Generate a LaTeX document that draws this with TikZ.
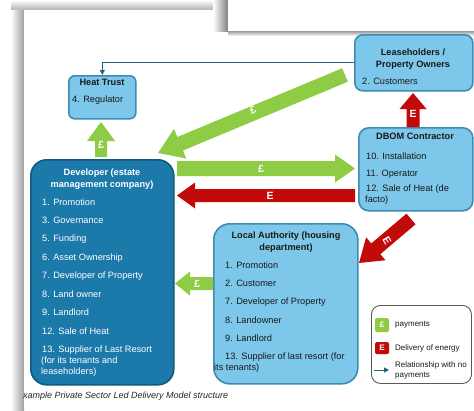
\documentclass[tikz,border=0pt]{standalone}
\usepackage{fontspec}
\setmainfont{Liberation Sans}
\usetikzlibrary{calc,arrows.meta}
\definecolor{lbfill}{RGB}{125,199,234}
\definecolor{lbborder}{RGB}{60,140,180}
\definecolor{dbfill}{RGB}{27,122,170}
\definecolor{dbborder}{RGB}{18,88,125}
\definecolor{grn}{RGB}{142,204,70}
\definecolor{rd}{RGB}{195,10,10}
\definecolor{lnk}{RGB}{40,95,125}
\definecolor{txtc}{RGB}{25,25,25}
\newcommand\fatarrow[7]{%
  \coordinate (#7h) at ($(#3)!#6pt!(#2)$);
  \fill[#1] ($(#2)!#4pt!90:(#3)$) -- ($(#7h)!#4pt!90:(#3)$) -- ($(#7h)!#5pt!90:(#3)$) -- (#3)
    -- ($(#7h)!#5pt!-90:(#3)$) -- ($(#7h)!#4pt!-90:(#3)$) -- ($(#2)!#4pt!-90:(#3)$) -- cycle;}
\tikzset{
  lbox/.style={draw=lbborder, fill=lbfill, line width=1.6pt, inner sep=0pt, anchor=north west},
  dbox/.style={draw=dbborder, fill=dbfill, line width=1.6pt, inner sep=0pt, anchor=north west},
  txt/.style={inner sep=0pt, text=txtc, font=\fontsize{9.2}{11}\selectfont, text height=6.7pt, text depth=1.9pt},
  ttl/.style={txt, font=\bfseries\fontsize{9.2}{11}\selectfont},
  wtxt/.style={txt, text=white},
  wttl/.style={ttl, text=white},
  lbl/.style={inner sep=0pt, text=white, font=\bfseries\fontsize{10.5}{12}\selectfont},
  lgtxt/.style={inner sep=0pt, text=txtc, font=\fontsize{8}{9.5}\selectfont, text height=6pt, text depth=1.7pt},
  linkarrow/.style={draw=lnk, line width=1pt, -{Triangle[length=5pt,width=5pt]}},
}
\begin{document}
\begin{tikzpicture}[x=1pt,y=-1pt]
\useasboundingbox (0,0) rectangle (474,410);
% paper and shadows
\fill[white] (0,0) rectangle (474,410);
\shade[top color=white, bottom color=black!30] (11,0) rectangle (474,10);
\shade[left color=white, right color=black!38] (11,10) rectangle (24,410);
\fill[white] (24,10) rectangle (474,410);
\shade[left color=white, right color=black!50] (213,0) rectangle (228,31);
\shade[top color=black!40, bottom color=white] (228,31) rectangle (474,36);
\fill[white] (228,0) rectangle (474,31);

% boxes
\node[lbox, rounded corners=6pt, minimum width=67pt, minimum height=43pt] (heat) at (68,75) {};
\node[lbox, rounded corners=8pt, minimum width=118pt, minimum height=56pt] (lease) at (354,34) {};
\node[lbox, rounded corners=10pt, minimum width=114pt, minimum height=83pt] (dbom) at (358,127) {};
\node[dbox, rounded corners=16pt, minimum width=143pt, minimum height=225pt] (dev) at (30,159) {};
\node[lbox, rounded corners=16pt, minimum width=144pt, minimum height=160pt] (la) at (213,223) {};
\node[draw=black!65, line width=0.9pt, rounded corners=9pt, inner sep=0pt, anchor=north west, minimum width=100pt, minimum height=78pt] (legend) at (371,305) {};

% thin relationship arrow
\draw[linkarrow] (lease.west) -| (heat.north);

% fat arrows
\coordinate (gdA) at (345,75);  \coordinate (gdB) at (158,153);
\fatarrow{grn}{gdA}{gdB}{7.3}{16}{24}{gd}
\coordinate (ghA) at (177,168.5); \coordinate (ghB) at (355,168.5);
\fatarrow{grn}{ghA}{ghB}{7.5}{14}{20}{gh}
\coordinate (rhA) at (355,195.5); \coordinate (rhB) at (177,195.5);
\fatarrow{rd}{rhA}{rhB}{6.5}{13}{18}{rh}
\coordinate (guA) at (101,157); \coordinate (guB) at (101,122);
\fatarrow{grn}{guA}{guB}{6}{14}{19}{gu}
\coordinate (ruA) at (413,127); \coordinate (ruB) at (413,93);
\fatarrow{rd}{ruA}{ruB}{6.5}{13.5}{16}{ru}
\coordinate (rdA) at (411,219); \coordinate (rdB) at (359,263);
\fatarrow{rd}{rdA}{rdB}{7}{15}{22}{rdg}
\coordinate (glA) at (213,283.5); \coordinate (glB) at (175,283.5);
\fatarrow{grn}{glA}{glB}{6.5}{12}{15}{gl}

% arrow labels
\node[lbl] (l1) at (101,145) {£};
\node[lbl, rotate=23] (l2) at (253,110) {£};
\node[lbl] (l3) at (261,169) {£};
\node[lbl] (l4) at (270,196) {E};
\node[lbl] (l5) at (413,114) {E};
\node[lbl, rotate=-60] (l6) at (387,241) {E};
\node[lbl] (l7) at (197,284) {£};

% Heat Trust
\node[ttl] (h0) at (102,83) {Heat Trust};
\node[txt, anchor=west] (h1) at (72,100) {4. Regulator};

% Leaseholders
\node[ttl] (s0) at (413,53) {Leaseholders /};
\node[ttl] (s1) at (413,65) {Property Owners};
\node[txt, anchor=west] (s2) at (362,82) {2. Customers};

% DBOM
\node[ttl] (d0) at (415,137) {DBOM Contractor};
\node[txt, anchor=west] (d1) at (366,157) {10. Installation};
\node[txt, anchor=west] (d2) at (366,174) {11. Operator};
\node[txt, anchor=west] (d3) at (366,189) {12. Sale of Heat (de};
\node[txt, anchor=west] (d4) at (365,200) {facto)};

% Developer
\node[wttl] (v0) at (102,173) {Developer (estate};
\node[wttl] (v1) at (102,185) {management company)};
\node[wtxt, anchor=west] (v2) at (42,203) {1. Promotion};
\node[wtxt, anchor=west] (v3) at (42,221) {3. Governance};
\node[wtxt, anchor=west] (v4) at (42,239) {5. Funding};
\node[wtxt, anchor=west] (v5) at (42,258) {6. Asset Ownership};
\node[wtxt, anchor=west] (v6) at (42,276) {7. Developer of Property};
\node[wtxt, anchor=west] (v7) at (42,295) {8. Land owner};
\node[wtxt, anchor=west] (v8) at (42,313) {9. Landlord};
\node[wtxt, anchor=west] (v9) at (42,332) {12. Sale of Heat};
\node[wtxt, anchor=west] (v10) at (42,350) {13. Supplier of Last Resort};
\node[wtxt, anchor=west] (v11) at (41,361) {(for its tenants and};
\node[wtxt, anchor=west] (v12) at (41,372) {leaseholders)};

% Local Authority
\node[ttl] (a0) at (286,236) {Local Authority (housing};
\node[ttl] (a1) at (286,248) {department)};
\node[txt, anchor=west] (a2) at (225,266) {1. Promotion};
\node[txt, anchor=west] (a3) at (225,284) {2. Customer};
\node[txt, anchor=west] (a4) at (225,302) {7. Developer of Property};
\node[txt, anchor=west] (a5) at (225,321) {8. Landowner};
\node[txt, anchor=west] (a6) at (225,339) {9. Landlord};
\node[txt, anchor=west] (a7) at (225,357) {13. Supplier of last resort (for};
\node[txt, anchor=west] (a8) at (214,368) {its tenants)};

% legend
\node[fill=grn, rounded corners=1.5pt, minimum width=14pt, minimum height=14pt, inner sep=0pt, text=white, font=\bfseries\fontsize{8}{9}\selectfont] (kg) at (382,325) {£};
\node[lgtxt, anchor=west] (kgt) at (395,324) {payments};
\node[fill=rd, rounded corners=1.5pt, minimum width=14pt, minimum height=12pt, inner sep=0pt, text=white, font=\bfseries\fontsize{8}{9}\selectfont] (kr) at (382,348) {E};
\node[lgtxt, anchor=west] (krt) at (395,348) {Delivery of energy};
\coordinate (ka) at (374,370); \coordinate (kb) at (389,370);
\draw[linkarrow] (ka) -- (kb);
\node[lgtxt, anchor=west] (kt1) at (395,365) {Relationship with no};
\node[lgtxt, anchor=west] (kt2) at (395,375) {payments};

% caption
\node[inner sep=0pt, anchor=west, text=black!85, font=\itshape\fontsize{9}{11}\selectfont] (cap) at (23,396) {xample Private Sector Led Delivery Model structure};
\end{tikzpicture}
\end{document}
